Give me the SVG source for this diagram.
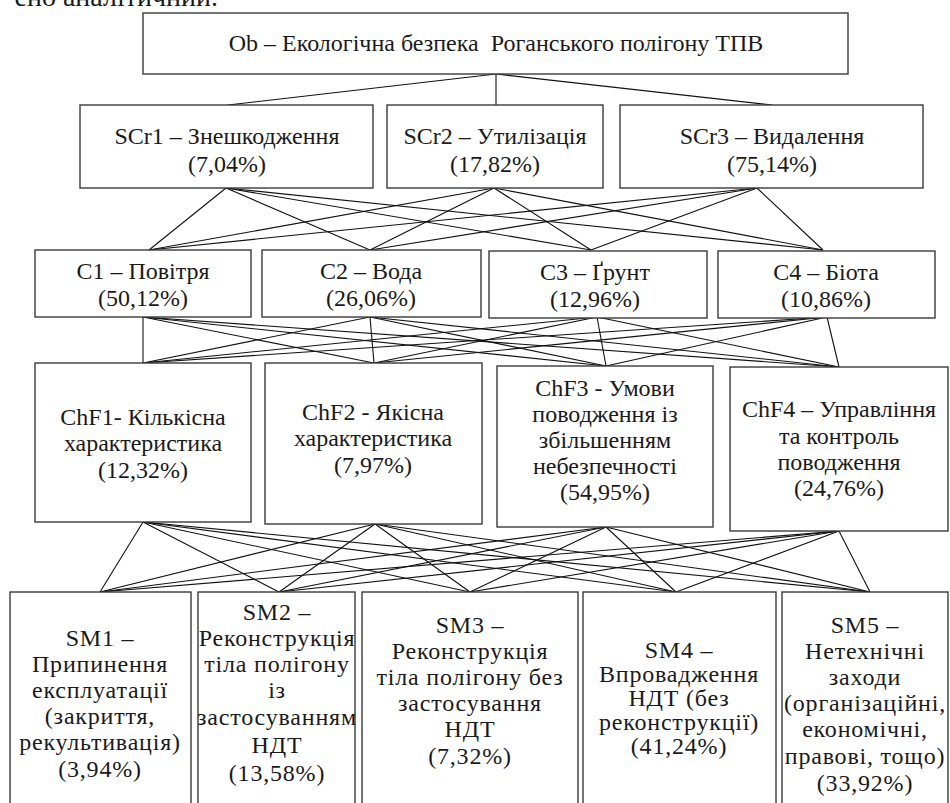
<svg xmlns="http://www.w3.org/2000/svg" width="950" height="803" viewBox="0 0 950 803">
<style>
.box{fill:#fff;stroke:#3a3a3a;stroke-width:1.4}
.t{font-family:"Liberation Serif","Times New Roman",serif;font-size:24px;fill:#1a1a1a;text-anchor:middle}
.s{letter-spacing:0.8px}
.c line{stroke:#111;stroke-width:1.1}
</style>
<rect width="950" height="803" fill="#fff"/>
<text x="218" y="6" class="t" style="font-size:28px;text-anchor:end">ено аналітичний.</text>
<g class="c" id="connectors">
<line x1="496" y1="74" x2="228" y2="105"/>
<line x1="496" y1="74" x2="496" y2="105"/>
<line x1="496" y1="74" x2="772" y2="105"/>
<line x1="226" y1="188" x2="149" y2="250"/>
<line x1="226" y1="188" x2="370" y2="250"/>
<line x1="226" y1="188" x2="591" y2="250"/>
<line x1="226" y1="188" x2="823" y2="250"/>
<line x1="494" y1="188" x2="149" y2="250"/>
<line x1="494" y1="188" x2="370" y2="250"/>
<line x1="494" y1="188" x2="591" y2="250"/>
<line x1="494" y1="188" x2="823" y2="250"/>
<line x1="757" y1="188" x2="149" y2="250"/>
<line x1="757" y1="188" x2="370" y2="250"/>
<line x1="757" y1="188" x2="591" y2="250"/>
<line x1="757" y1="188" x2="823" y2="250"/>
<line x1="143" y1="317" x2="143" y2="363"/>
<line x1="143" y1="317" x2="374" y2="363"/>
<line x1="143" y1="317" x2="606" y2="366"/>
<line x1="143" y1="317" x2="839" y2="367"/>
<line x1="370" y1="317" x2="143" y2="363"/>
<line x1="370" y1="317" x2="374" y2="363"/>
<line x1="370" y1="317" x2="606" y2="366"/>
<line x1="370" y1="317" x2="839" y2="367"/>
<line x1="597" y1="317" x2="143" y2="363"/>
<line x1="597" y1="317" x2="374" y2="363"/>
<line x1="597" y1="317" x2="606" y2="366"/>
<line x1="597" y1="317" x2="839" y2="367"/>
<line x1="827" y1="317" x2="143" y2="363"/>
<line x1="827" y1="317" x2="374" y2="363"/>
<line x1="827" y1="317" x2="606" y2="366"/>
<line x1="827" y1="317" x2="839" y2="367"/>
<line x1="143" y1="522" x2="100" y2="592"/>
<line x1="143" y1="522" x2="279" y2="592"/>
<line x1="143" y1="522" x2="470" y2="592"/>
<line x1="143" y1="522" x2="676" y2="592"/>
<line x1="143" y1="522" x2="870" y2="592"/>
<line x1="375" y1="524" x2="100" y2="592"/>
<line x1="375" y1="524" x2="279" y2="592"/>
<line x1="375" y1="524" x2="470" y2="592"/>
<line x1="375" y1="524" x2="676" y2="592"/>
<line x1="375" y1="524" x2="870" y2="592"/>
<line x1="606" y1="527" x2="100" y2="592"/>
<line x1="606" y1="527" x2="279" y2="592"/>
<line x1="606" y1="527" x2="470" y2="592"/>
<line x1="606" y1="527" x2="676" y2="592"/>
<line x1="606" y1="527" x2="870" y2="592"/>
<line x1="839" y1="531" x2="100" y2="592"/>
<line x1="839" y1="531" x2="279" y2="592"/>
<line x1="839" y1="531" x2="470" y2="592"/>
<line x1="839" y1="531" x2="676" y2="592"/>
<line x1="839" y1="531" x2="870" y2="592"/>
</g>
<g id="Ob"><rect class="box" x="143" y="13" width="705" height="61"/><text class="t" x="496" y="51">Ob – Екологічна безпека&#160; Роганського полігону ТПВ</text></g>
<g id="SCr1"><rect class="box" x="80" y="105" width="293" height="83"/><text class="t" x="227" y="144">SCr1 – Знешкодження</text><text class="t" x="227" y="172">(7,04%)</text></g>
<g id="SCr2"><rect class="box" x="387" y="105" width="216" height="83"/><text class="t" x="495" y="144">SCr2 – Утилізація</text><text class="t" x="495" y="172">(17,82%)</text></g>
<g id="SCr3"><rect class="box" x="620" y="105" width="303" height="83"/><text class="t" x="772" y="144">SCr3 – Видалення</text><text class="t" x="772" y="172">(75,14%)</text></g>
<g id="C1"><rect class="box" x="35" y="250" width="216" height="67"/><text class="t" x="143" y="279">C1 – Повітря</text><text class="t" x="143" y="306">(50,12%)</text></g>
<g id="C2"><rect class="box" x="262" y="250" width="219" height="67"/><text class="t" x="371" y="279">C2 – Вода</text><text class="t" x="371" y="306">(26,06%)</text></g>
<g id="C3"><rect class="box" x="489" y="251" width="218" height="67"/><text class="t" x="595" y="280">C3 – Ґрунт</text><text class="t" x="595" y="307">(12,96%)</text></g>
<g id="C4"><rect class="box" x="718" y="251" width="217" height="67"/><text class="t" x="826" y="280">C4 – Біота</text><text class="t" x="826" y="307">(10,86%)</text></g>
<g id="ChF1"><rect class="box" x="35" y="363" width="216" height="159"/><text class="t" x="143" y="425">ChF1- Кількісна</text><text class="t" x="143" y="451">характеристика</text><text class="t" x="143" y="478">(12,32%)</text></g>
<g id="ChF2"><rect class="box" x="265" y="363" width="217" height="161"/><text class="t" x="373" y="420">ChF2 - Якісна</text><text class="t" x="373" y="446">характеристика</text><text class="t" x="373" y="473">(7,97%)</text></g>
<g id="ChF3"><rect class="box" x="497" y="366" width="216" height="161"/><text class="t" x="605" y="396">ChF3 - Умови</text><text class="t" x="605" y="422">поводження із</text><text class="t" x="605" y="448">збільшенням</text><text class="t" x="605" y="474">небезпечності</text><text class="t" x="605" y="500">(54,95%)</text></g>
<g id="ChF4"><rect class="box" x="730" y="367" width="218" height="164"/><text class="t" x="839" y="417">ChF4 – Управління</text><text class="t" x="839" y="444">та контроль</text><text class="t" x="839" y="470">поводження</text><text class="t" x="839" y="496">(24,76%)</text></g>
<g id="SM1"><rect class="box" x="10" y="592" width="181" height="220"/><text class="t s" x="100"><tspan x="100" y="646">SM1 –</tspan><tspan x="100" y="672">Припинення</tspan><tspan x="100" y="698">експлуатації</tspan><tspan x="100" y="724">(закриття,</tspan><tspan x="100" y="750">рекультивація)</tspan><tspan x="100" y="777">(3,94%)</tspan></text></g>
<g id="SM2"><rect class="box" x="198" y="592" width="157" height="220"/><text class="t s" x="277"><tspan x="277" y="620">SM2 –</tspan><tspan x="277" y="646">Реконструкція</tspan><tspan x="277" y="672">тіла полігону</tspan><tspan x="277" y="698">із</tspan><tspan x="277" y="725">застосуванням</tspan><tspan x="277" y="753">НДТ</tspan><tspan x="277" y="781">(13,58%)</tspan></text></g>
<g id="SM3"><rect class="box" x="362" y="592" width="216" height="220"/><text class="t s" x="470"><tspan x="470" y="633">SM3 –</tspan><tspan x="470" y="659">Реконструкція</tspan><tspan x="470" y="685">тіла полігону без</tspan><tspan x="470" y="711">застосування</tspan><tspan x="470" y="737">НДТ</tspan><tspan x="470" y="764">(7,32%)</tspan></text></g>
<g id="SM4"><rect class="box" x="583" y="592" width="193" height="220"/><text class="t s" x="679"><tspan x="679" y="658">SM4 –</tspan><tspan x="679" y="682">Впровадження</tspan><tspan x="679" y="706">НДТ (без</tspan><tspan x="679" y="730">реконструкції)</tspan><tspan x="679" y="754">(41,24%)</tspan></text></g>
<g id="SM5"><rect class="box" x="782" y="592" width="166" height="220"/><text class="t s" x="865"><tspan x="865" y="633">SM5 –</tspan><tspan x="865" y="659">Нетехнічні</tspan><tspan x="865" y="685">заходи</tspan><tspan x="865" y="711">(організаційні,</tspan><tspan x="865" y="737">економічні,</tspan><tspan x="865" y="764">правові, тощо)</tspan><tspan x="865" y="791">(33,92%)</tspan></text></g>
</svg>
